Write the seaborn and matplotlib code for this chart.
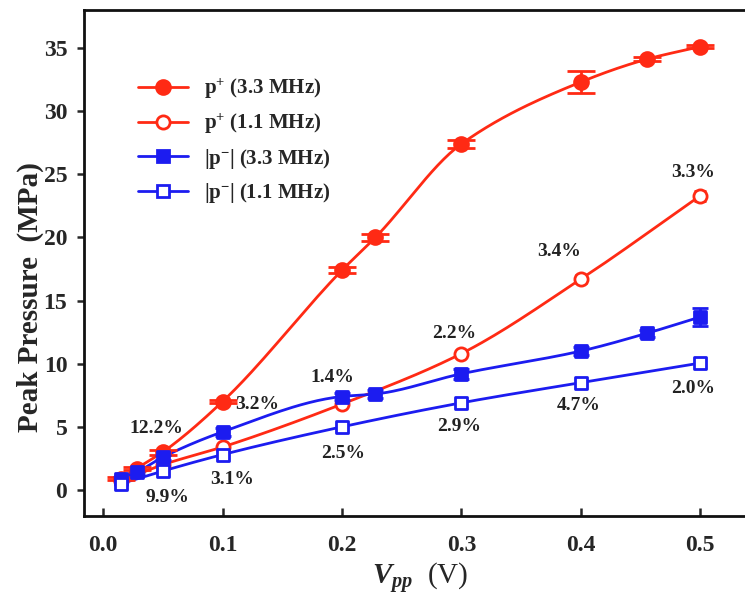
import numpy as np
import pandas as pd
import matplotlib
matplotlib.use('Agg')
import matplotlib.pyplot as plt
from matplotlib.lines import Line2D
import seaborn as sns

# data
x_p33 = [0.015, 0.028, 0.05, 0.1, 0.2, 0.228, 0.3, 0.4, 0.455, 0.5]
y_p33 = [0.9, 1.7, 3.0, 7.0, 17.4, 20.0, 27.4, 32.3, 34.1, 35.1]
e_p33 = [0.1, 0.1, 0.2, 0.15, 0.25, 0.3, 0.3, 0.9, 0.15, 0.1]

x_p11 = [0.015, 0.05, 0.1, 0.2, 0.3, 0.4, 0.5]
y_p11 = [0.7, 2.0, 3.4, 6.8, 10.8, 16.7, 23.3]
e_p11 = [0.1, 0.1, 0.1, 0.2, 0.2, 0.3, 0.4]

x_n33 = [0.015, 0.028, 0.05, 0.1, 0.2, 0.228, 0.3, 0.4, 0.455, 0.5]
y_n33 = [0.9, 1.4, 2.6, 4.6, 7.4, 7.6, 9.2, 11.0, 12.4, 13.7]
e_n33 = [0.1, 0.1, 0.2, 0.3, 0.3, 0.3, 0.4, 0.3, 0.3, 0.7]

x_n11 = [0.015, 0.05, 0.1, 0.2, 0.3, 0.4, 0.5]
y_n11 = [0.5, 1.5, 2.8, 5.0, 6.9, 8.5, 10.05]

labels = ['p$^{+}$ (3.3 MHz)', 'p$^{+}$ (1.1 MHz)',
          '|p$^{-}$| (3.3 MHz)', '|p$^{-}$| (1.1 MHz)']

notes = ['12.2%', '3.2%', '9.9%', '3.1%', '1.4%', '2.5%',
         '2.2%', '2.9%', '3.4%', '4.7%', '2.0%', '3.3%']
note_x = [0.045, 0.129, 0.054, 0.108, 0.192, 0.201,
          0.294, 0.298, 0.382, 0.398, 0.494, 0.494]
note_y = [4.9, 6.8, -0.6, 0.8, 8.9, 2.9,
          12.4, 5.0, 18.85, 6.7, 8.0, 25.1]

RED = '#ff2a14'
BLUE = '#1c1cf0'

sns.set_style('ticks')
plt.rcParams['font.family'] = ['Liberation Serif', 'DejaVu Serif']
plt.rcParams['font.weight'] = 'bold'
plt.rcParams['mathtext.default'] = 'regular'
plt.rcParams['mathtext.fontset'] = 'custom'
plt.rcParams['mathtext.it'] = 'Liberation Serif:italic:bold'
plt.rcParams['mathtext.rm'] = 'Liberation Serif:bold'


def smooth(x, y, n=30):
    # monotone cubic (Fritsch-Carlson) through the points, for the line only
    x = np.asarray(x, float)
    y = np.asarray(y, float)
    h = np.diff(x)
    d = np.diff(y) / h
    m = np.zeros_like(y)
    m[0], m[-1] = d[0], d[-1]
    for i in range(1, len(x) - 1):
        if d[i - 1] * d[i] > 0:
            w1 = 2 * h[i] + h[i - 1]
            w2 = h[i] + 2 * h[i - 1]
            m[i] = (w1 + w2) / (w1 / d[i - 1] + w2 / d[i])
    xs, ys = [], []
    for i in range(len(x) - 1):
        t = np.linspace(0, 1, n)
        h00 = 2 * t ** 3 - 3 * t ** 2 + 1
        h10 = t ** 3 - 2 * t ** 2 + t
        h01 = -2 * t ** 3 + 3 * t ** 2
        h11 = t ** 3 - t ** 2
        xs.append(x[i] + t * h[i])
        ys.append(h00 * y[i] + h10 * h[i] * m[i] + h01 * y[i + 1]
                  + h11 * h[i] * m[i + 1])
    return np.concatenate(xs), np.concatenate(ys)


fig = plt.figure(figsize=(7.45, 5.97), dpi=100)
ax = fig.add_axes([84 / 745, 81 / 597, 688 / 745, 506 / 597])

series = [
    (x_p33, y_p33, e_p33, RED, 'o', True, 10, 10),
    (x_p11, y_p11, e_p11, RED, 'o', False, 4, 9.5),
    (x_n33, y_n33, e_n33, BLUE, 's', True, 5.5, 8.5),
    (x_n11, y_n11, None, BLUE, 's', False, 0, 8.5),
]

handles = []
for (xs, ys, es, col, mk, filled, cap, ms), lab in zip(series, labels):
    sx, sy = smooth(xs, ys)
    ax.plot(sx, sy, color=col, lw=2, zorder=2)
    if es is not None:
        ax.errorbar(xs, ys, yerr=es, fmt='none', ecolor=col, elinewidth=2,
                    capsize=cap, capthick=2, zorder=3)
    df = pd.DataFrame({'x': xs, 'y': ys})
    sns.scatterplot(data=df, x='x', y='y', ax=ax, marker=mk, s=ms ** 2,
                    color=col if filled else 'white', edgecolor=col,
                    linewidth=2, zorder=4, legend=False)
    handles.append(Line2D([], [], color=col, lw=2, marker=mk, markersize=ms,
                          markerfacecolor=col if filled else 'white',
                          markeredgecolor=col, markeredgewidth=2, label=lab))

for t, xx, yy in zip(notes, note_x, note_y):
    ax.text(xx, yy, t, ha='center', va='center', fontsize=14,
            fontweight='bold', color='#222222')

ax.set_xlim(-0.016, 0.56)
ax.set_ylim(-2.06, 38)
ax.set_xticks([0.0, 0.1, 0.2, 0.3, 0.4, 0.5])
ax.set_xticklabels(['0.0', '0.1', '0.2', '0.3', '0.4', '0.5'])
ax.set_yticks([0, 5, 10, 15, 20, 25, 30, 35])
ax.tick_params(axis='x', direction='in', length=6, width=1.8,
               labelsize=17, pad=14)
ax.tick_params(axis='y', direction='out', length=5, width=1.8,
               labelsize=17, pad=7)
for lbl in ax.get_xticklabels() + ax.get_yticklabels():
    lbl.set_fontweight('bold')
for sp in ax.spines.values():
    sp.set_linewidth(2)
    sp.set_color('#111111')

ax.set_xlabel('$\\mathit{V_{pp}}$  (V)', fontsize=21, fontweight='normal')
ax.set_ylabel('Peak Pressure  (MPa)', fontsize=21, fontweight='bold')
ax.xaxis.set_label_coords((420 - 84) / 688, -(578 - 516) / 506)
ax.yaxis.set_label_coords(-(84 - 30) / 688, (516 - 297) / 506)
ax.xaxis.label.set_va('center')
ax.yaxis.label.set_va('center')

ax.legend(handles=handles, loc='upper left', frameon=False,
          bbox_to_anchor=(138 / 745, 1 - 77 / 597),
          bbox_transform=fig.transFigure, borderpad=0, borderaxespad=0,
          handlelength=2.4, handletextpad=0.75, labelspacing=0.5,
          prop={'family': 'Liberation Serif', 'weight': 'bold', 'size': 15})

fig.savefig('out.png', dpi=100)
